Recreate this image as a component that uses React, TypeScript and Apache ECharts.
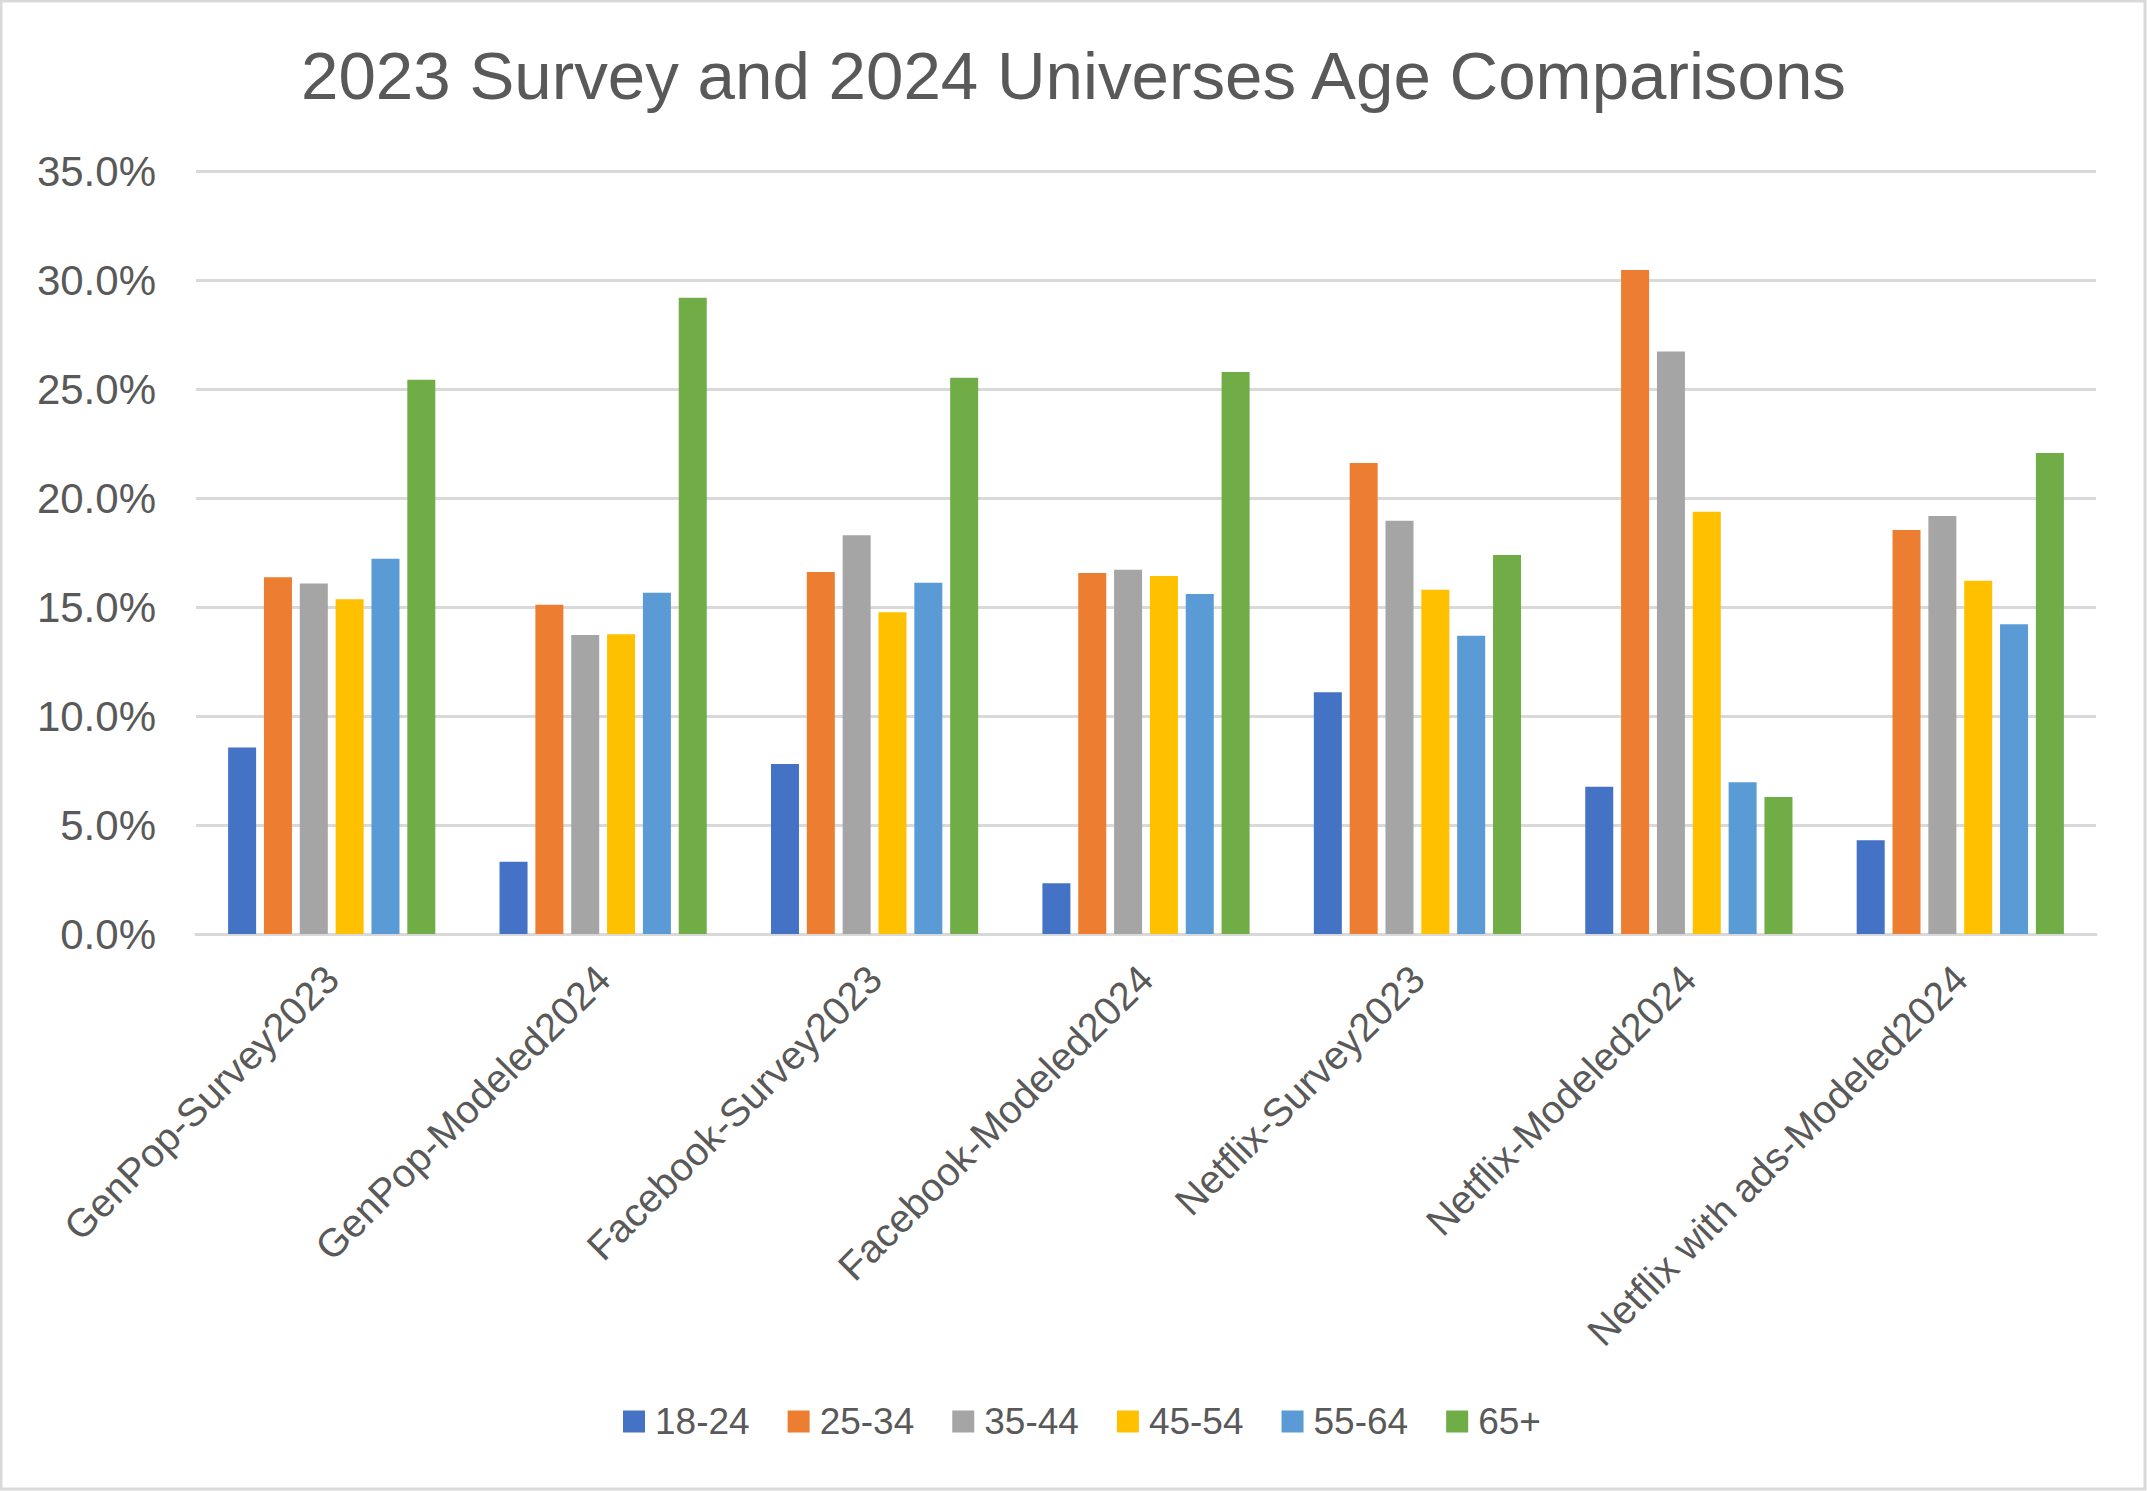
import React, { useEffect, useRef } from "react";
import * as echarts from "echarts";

const categories = [
  "GenPop-Survey2023",
  "GenPop-Modeled2024",
  "Facebook-Survey2023",
  "Facebook-Modeled2024",
  "Netflix-Survey2023",
  "Netflix-Modeled2024",
  "Netflix with ads-Modeled2024",
];
const seriesNames = ["18-24", "25-34", "35-44", "45-54", "55-64", "65+"];
const colors = ["#4472C4", "#ED7D31", "#A5A5A5", "#FFC000", "#5B9BD5", "#70AD47"];
const age18_24 = [8.55, 3.31, 7.8, 2.33, 11.09, 6.75, 4.3];
const age25_34 = [16.37, 15.1, 16.61, 16.56, 21.6, 30.46, 18.53];
const age35_44 = [16.08, 13.71, 18.29, 16.71, 18.96, 26.72, 19.18];
const age45_54 = [15.36, 13.75, 14.76, 16.42, 15.79, 19.37, 16.2];
const age55_64 = [17.21, 15.65, 16.11, 15.6, 13.68, 6.96, 14.21];
const age65plus = [25.42, 29.19, 25.52, 25.78, 17.38, 6.29, 22.06];
const seriesData = [age18_24, age25_34, age35_44, age45_54, age55_64, age65plus];

const FONT = "'Liberation Sans', Arial, Helvetica, sans-serif";
const TEXT = "#595959";
const GRIDC = "#D9D9D9";

export default function App() {
  const ref = useRef<HTMLDivElement>(null);
  useEffect(() => {
    if (!ref.current) return;
    const chart = echarts.init(ref.current, null, { renderer: "svg" });
    chart.setOption({
      animation: false,
      backgroundColor: "#ffffff",
      title: {
        text: "2023 Survey and 2024 Universes Age Comparisons",
        left: "center",
        top: 37,
        textStyle: { fontFamily: FONT, fontSize: 67.3, fontWeight: "normal", color: TEXT },
      },
      legend: {
        data: seriesNames,
        left: 618,
        top: 1398,
        icon: "rect",
        itemWidth: 22,
        itemHeight: 22,
        itemGap: 38,
        textStyle: { fontFamily: FONT, fontSize: 37, color: TEXT, padding: [0, 0, 0, 5] },
      },
      grid: { left: 196, right: 51, top: 171, bottom: 557, containLabel: false },
      xAxis: {
        type: "category",
        data: categories,
        axisLine: { lineStyle: { color: GRIDC, width: 3 } },
        axisTick: { show: false },
        axisLabel: {
          rotate: 45,
          interval: 0,
          margin: 38,
          fontFamily: FONT,
          fontSize: 39.5,
          color: TEXT,
        },
      },
      yAxis: {
        type: "value",
        min: 0,
        max: 35,
        interval: 5,
        axisLine: { show: false },
        axisTick: { show: false },
        splitLine: { lineStyle: { color: GRIDC, width: 3 } },
        axisLabel: {
          margin: 40,
          fontFamily: FONT,
          fontSize: 42,
          color: TEXT,
          formatter: (v: number) => v.toFixed(1) + "%",
        },
      },
      series: seriesNames.map((name, i) => ({
        name,
        type: "bar",
        data: seriesData[i],
        barWidth: 28,
        barGap: "28%",
        itemStyle: { color: colors[i] },
      })),
      graphic: [
        {
          type: "rect",
          shape: { x: 1, y: 1, width: 2144, height: 1488 },
          style: { fill: "none", stroke: GRIDC, lineWidth: 3 },
          silent: true,
        },
      ],
    });
    return () => chart.dispose();
  }, []);
  return (
    <div
      ref={ref}
      style={{ position: "fixed", left: 0, top: 0, width: 2147, height: 1491 }}
    />
  );
}
